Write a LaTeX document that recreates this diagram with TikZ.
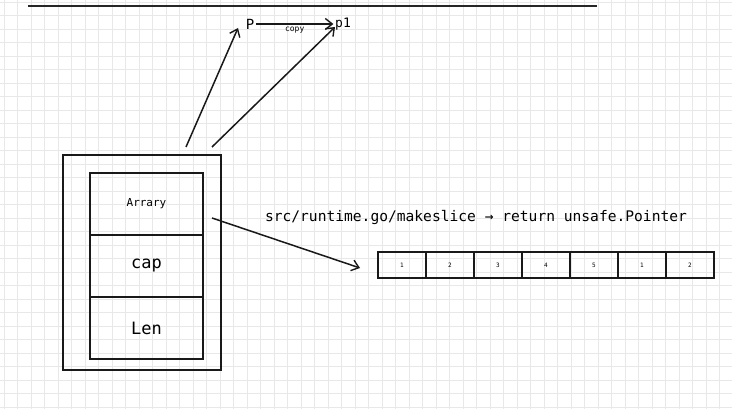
\documentclass[tikz,border=0pt]{standalone}
\usepackage{fontspec}
\setmonofont{DejaVu Sans Mono}
\usepackage{tikz}
\usetikzlibrary{arrows.meta,positioning}

\begin{document}
\begin{tikzpicture}[x=1pt, y=-1pt, line width=1.5pt, draw=black!90,
  gridln/.style={line width=0.4pt, black!9},
  cell/.style={draw, outer sep=0pt, minimum width=48pt, minimum height=26pt, inner sep=0pt, font=\ttfamily\fontsize{6}{7}\selectfont},
  field/.style={draw, outer sep=0pt, minimum width=113pt, minimum height=62pt, inner sep=0pt},
  arr/.style={-{Straight Barb[length=7pt,width=11pt,line width=1.4pt]}},
  lbl/.style={midway, below, font=\ttfamily\fontsize{8}{9}\selectfont, inner sep=2pt}]
\useasboundingbox (0,0) rectangle (732,409);
% background grid
\foreach \gx in {4,17.5,...,732} \draw[gridln] (\gx,0) -- (\gx,409);
\foreach \gy in {2,15.5,...,409} \draw[gridln] (0,\gy) -- (732,\gy);

\draw[line width=1.8pt, black!85] (28,6) -- (597,6);

\node[font=\ttfamily\fontsize{14}{16}\selectfont, inner sep=1pt] (P) at (250,24) {P};
\node[font=\ttfamily\fontsize{13}{15}\selectfont, inner sep=1pt] (p1) at (343,24) {p1};
\draw[arr] (P.east) -- node[lbl]{copy} (p1.west);

\draw (63,155) rectangle (221,370);
\node[field, font=\ttfamily\fontsize{11}{13}\selectfont] (arrary) at (146.5,204) {Arrary};
\node[field, font=\ttfamily\fontsize{17}{19}\selectfont, below=0pt of arrary] (cap) {cap};
\node[field, font=\ttfamily\fontsize{17}{19}\selectfont, below=0pt of cap] (len) {Len};

\coordinate (h1) at (186,147);
\coordinate (h2) at (212,147);
\draw[arr] (h1) -- (238,28);
\draw[arr] (h2) -- (335,27);

\node[font=\ttfamily\fontsize{14.6}{16}\selectfont] (src) at (476,217) {src/runtime.go/makeslice → return unsafe.Pointer};

\node[cell] (c1) at (402,265) {1};
\foreach \v/\n [count=\i] in {2/c2,3/c3,4/c4,5/c5,1/c6,2/c7} {
  \pgfmathtruncatemacro{\prev}{\i}
  \node[cell, right=0pt of c\prev] (\n) {\v};
}
\coordinate (a1) at (212,218);
\draw[arr] (a1) -- (360,268);
\end{tikzpicture}
\end{document}
